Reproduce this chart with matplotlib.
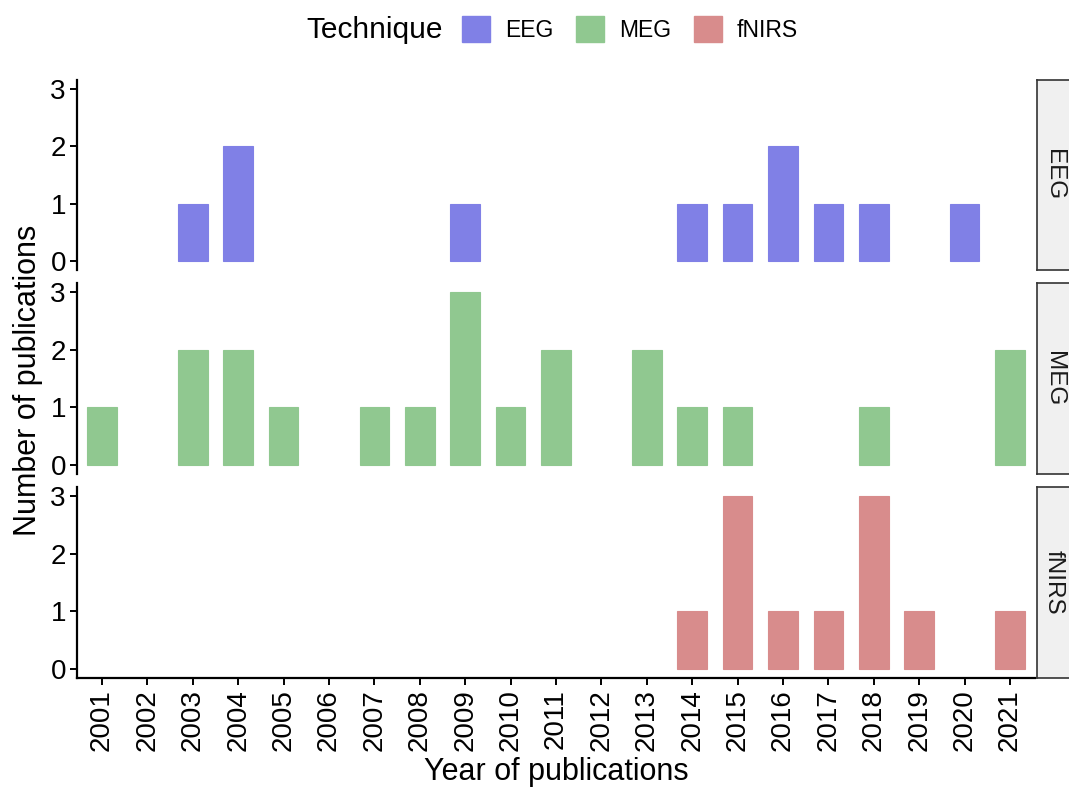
import matplotlib
matplotlib.use("Agg")
import matplotlib.pyplot as plt
from matplotlib.patches import Patch

plt.rcParams['font.family'] = ['Liberation Sans', 'DejaVu Sans']

years = list(range(2001, 2022))
techniques = ["EEG", "MEG", "fNIRS"]
colors = {"EEG": "#8080E6", "MEG": "#90C890", "fNIRS": "#D88C8C"}

eeg_years = [2003, 2004, 2009, 2014, 2015, 2016, 2017, 2018, 2020]
eeg_counts = [1, 2, 1, 1, 1, 2, 1, 1, 1]
meg_years = [2001, 2003, 2004, 2005, 2007, 2008, 2009, 2010, 2011, 2013, 2014, 2015, 2018, 2021]
meg_counts = [1, 2, 2, 1, 1, 1, 3, 1, 2, 2, 1, 1, 1, 2]
fnirs_years = [2014, 2015, 2016, 2017, 2018, 2019, 2021]
fnirs_counts = [1, 3, 1, 1, 3, 1, 1]

data = {"EEG": (eeg_years, eeg_counts), "MEG": (meg_years, meg_counts),
        "fNIRS": (fnirs_years, fnirs_counts)}

W, H = 1069, 794
fig = plt.figure(figsize=(W / 100, H / 100), dpi=100)

left, right = 77, 1035
panels = [(80, 270), (283, 474), (487, 678)]

for i, (tech, (top, bot)) in enumerate(zip(techniques, panels)):
    ax = fig.add_axes([left / W, 1 - bot / H, (right - left) / W, (bot - top) / H])
    yrs, cnts = data[tech]
    xs = [years.index(y) for y in yrs]
    ax.bar(xs, cnts, width=0.65, color=colors[tech], edgecolor=colors[tech], linewidth=0.8)
    ax.set_xlim(-0.55, len(years) - 1 + 0.55)
    ax.set_ylim(-0.15, 3.15)
    ax.set_yticks([0, 1, 2, 3])
    ax.tick_params(axis='y', labelsize=20, length=5, width=1.4, colors='black', pad=3)
    for s in ['top', 'right']:
        ax.spines[s].set_visible(False)
    ax.spines['left'].set_linewidth(1.6)
    if i < 2:
        ax.spines['bottom'].set_visible(False)
        ax.set_xticks([])
    else:
        ax.spines['bottom'].set_linewidth(1.6)
        ax.set_xticks(range(len(years)))
        ax.set_xticklabels([str(y) for y in years], rotation=90)
        ax.tick_params(axis='x', labelsize=20, length=5, width=1.4, pad=3)
        ax.set_xlabel("Year of publications", fontsize=22, labelpad=4)
    # strip
    sx = 1037
    sax = fig.add_axes([sx / W, 1 - bot / H, 40 / W, (bot - top) / H])
    sax.set_xticks([]); sax.set_yticks([])
    sax.set_facecolor("#F0F0F0")
    for s in sax.spines.values():
        s.set_color("#333333")
        s.set_linewidth(1.2)
    sax.text(0.42, 0.5, tech, rotation=-90, ha='center', va='center', fontsize=17.5,
             color='#1A1A1A', transform=sax.transAxes)

fig.text(28 / W, 1 - 380 / H, "Number of publications", rotation=90, ha='center',
         va='center', fontsize=22)

handles = [Patch(facecolor=colors[t], edgecolor=colors[t]) for t in techniques]
fig.legend(handles, techniques, ncol=3, loc='center left',
           bbox_to_anchor=(446 / W, 1 - 29 / H), frameon=False, fontsize=16.5,
           handlelength=1.22, handleheight=1.4, handletextpad=0.65, columnspacing=1.0,
           borderpad=0.2)
fig.text(443 / W, 1 - 30 / H, "Technique", ha='right', va='center', fontsize=21.5)

fig.savefig("out.png", dpi=100)
